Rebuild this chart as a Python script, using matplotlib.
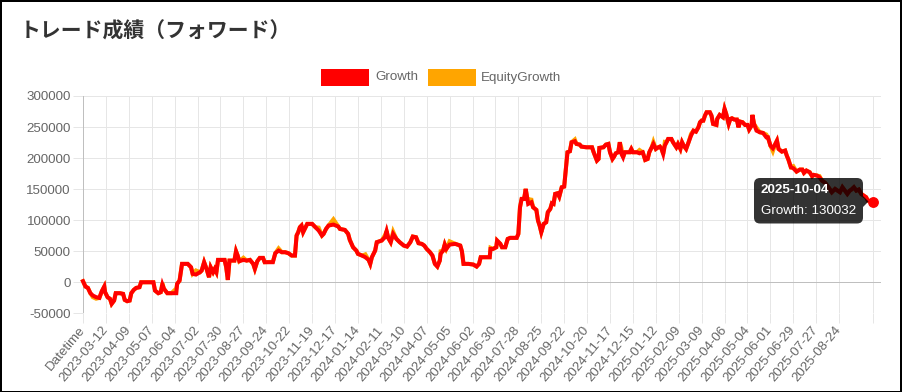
import matplotlib
matplotlib.use("Agg")
import matplotlib.pyplot as plt
import matplotlib.transforms as mtransforms
from matplotlib.patches import Rectangle, FancyBboxPatch, Polygon

# ---------------- data ----------------
title = "トレード成績（フォワード）"
series_names = ["Growth", "EquityGrowth"]

tick_labels = ["Datetime", "2023-03-12", "2023-04-09", "2023-05-07", "2023-06-04", "2023-07-02",
               "2023-07-30", "2023-08-27", "2023-09-24", "2023-10-22", "2023-11-19", "2023-12-17",
               "2024-01-14", "2024-02-11", "2024-03-10", "2024-04-07", "2024-05-05", "2024-06-02",
               "2024-06-30", "2024-07-28", "2024-08-25", "2024-09-22", "2024-10-20", "2024-11-17",
               "2024-12-15", "2025-01-12", "2025-02-09", "2025-03-09", "2025-04-06", "2025-05-04",
               "2025-06-01", "2025-06-29", "2025-07-27", "2025-08-24"]
label_step_days = 28          # one label every 28 daily points
last_day = 965                # index of 2025-10-04

# day index (0 = "Datetime", 1 = 2023-02-12 ...), growth values
days = [0, 3, 6, 9, 12, 16, 20, 23, 26, 27, 30, 33, 35, 38, 40, 45, 49, 51, 54, 57, 59, 62, 65, 69,
        71, 79, 86, 88, 92, 95, 97, 99, 103, 108, 114, 115, 118, 121, 128, 132, 134, 138, 143, 145,
        148, 151, 154, 156, 159, 161, 163, 165, 173, 175, 177, 179, 185, 187, 189, 191, 196, 200,
        204, 208, 210, 213, 216, 220, 222, 232, 235, 239, 243, 247, 251, 255, 259, 261, 263, 265,
        267, 269, 271, 274, 280, 284, 288, 292, 294, 297, 300, 306, 312, 314, 320, 324, 326, 330,
        334, 336, 341, 345, 349, 351, 353, 357, 359, 365, 369, 371, 373, 376, 379, 383, 387, 392,
        396, 400, 403, 407, 410, 414, 417, 420, 424, 427, 430, 433, 436, 437, 440, 442, 444, 448,
        455, 461, 463, 465, 471, 477, 481, 484, 486, 491, 497, 498, 501, 505, 506, 510, 512, 516,
        519, 522, 530, 532, 534, 536, 539, 541, 543, 544, 548, 550, 554, 556, 558, 560, 563, 566,
        568, 571, 573, 575, 577, 580, 582, 585, 588, 590, 592, 595, 597, 601, 603, 607, 609, 615,
        622, 624, 628, 630, 631, 636, 639, 642, 644, 647, 649, 651, 654, 656, 658, 660, 662, 668,
        670, 672, 677, 680, 684, 687, 690, 692, 695, 697, 700, 703, 705, 707, 709, 711, 713, 715,
        719, 721, 725, 727, 730, 732, 734, 737, 740, 743, 746, 749, 752, 754, 756, 758, 760, 762,
        766, 768, 770, 774, 775, 778, 782, 784, 786, 789, 791, 793, 796, 799, 801, 803, 806, 809,
        812, 814, 817, 818, 820, 823, 827, 831, 835, 837, 840, 843, 846, 848, 850, 854, 858, 860,
        862, 865, 868, 872, 876, 879, 881, 884, 888, 891, 893, 897, 900, 903, 907, 911, 915, 919,
        922, 925, 928, 931, 934, 937, 939, 942, 945, 948, 951, 954, 957, 959, 965]

growth = [1700, -6900, -9100, -17600, -21400, -24000, -25200, -14400, -6900, -16000, -24000, -26700,
          -34800, -29500, -17600, -17600, -18700, -28400, -30500, -29500, -17600, -12300, -9100, -8000,
          0, 0, 0, -13400, -17600, -16000, -3700, -10700, -17600, -17600, -17600, -2600, 2700, 29600,
          29600, 24200, 13500, 12400, 16200, 18800, 32300, 21500, 8100, 24200, 16200, 21500, 16200,
          36000, 36000, 24200, 3800, 34900, 34900, 50000, 43000, 33900, 36000, 34900, 36000, 29600,
          21500, 33900, 39200, 39200, 32300, 32300, 46800, 51000, 48400, 48400, 46800, 43000, 43000,
          75200, 80600, 88600, 91300, 80600, 85900, 94000, 94000, 88600, 83300, 75200, 77900, 85900,
          91300, 92900, 89700, 85900, 84300, 77900, 68200, 56400, 51000, 45700, 43000, 40300, 36000,
          29600, 40300, 51000, 64500, 67200, 72500, 82200, 71500, 64500, 77900, 69800, 64500, 59100,
          57500, 64500, 73600, 72500, 62900, 61800, 59100, 53700, 48400, 43000, 29600, 25300, 34900,
          45700, 51000, 60700, 53700, 60700, 61800, 59100, 50000, 29600, 29600, 28500, 25300, 29600,
          40300, 40300, 40300, 53700, 53700, 56400, 67200, 61800, 56400, 56400, 69800, 71500, 71500,
          77900, 120800, 134200, 134200, 150300, 134200, 126200, 128900, 120800, 116500, 99400, 91300,
          80600, 94000, 96600, 112800, 118100, 127300, 126200, 142300, 143400, 138000, 153000, 154100,
          182600, 209400, 211000, 225500, 227100, 222800, 221700, 218500, 217400, 217400, 209400,
          195900, 198600, 216400, 217400, 221700, 222800, 209400, 198600, 202400, 207700, 209400,
          225500, 206700, 201300, 209400, 209400, 214700, 209400, 209400, 207700, 209400, 197000,
          198600, 209400, 217400, 222800, 214700, 217400, 218500, 214700, 206700, 220100, 225500,
          230800, 230800, 225500, 217400, 222800, 214700, 225500, 220100, 214700, 225500, 236200,
          244200, 242600, 249600, 257700, 260400, 260400, 268400, 273800, 273800, 268400, 255000,
          253400, 263000, 269500, 265700, 279200, 271100, 255000, 263000, 264100, 262000, 262000,
          249600, 258800, 257700, 253400, 253400, 245900, 252300, 269500, 255000, 244200, 241600,
          240500, 233500, 233500, 220100, 215800, 222800, 228100, 214700, 210400, 212100, 204000,
          197600, 185200, 183600, 178300, 181500, 181500, 176100, 179900, 177200, 170700, 172900,
          171800, 169100, 163800, 160000, 153000, 145000, 150300, 147600, 145000, 153000, 147600,
          142300, 147600, 149300, 153000, 147600, 149300, 142300, 139600, 136900, 131600, 130032]

equity = [1700, -6900, -9100, -17600, -24000, -26500, -25200, -14400, -6900, -16000, -24000, -26700,
          -34800, -29500, -17600, -17600, -18700, -28400, -30500, -29500, -17600, -12300, -9100, -8000,
          0, 0, 0, -13400, -17600, -16000, -1500, -10700, -17600, -17600, -10000, -2600, 2700, 29600,
          29600, 24200, 13500, 19000, 16200, 18800, 32300, 21500, 8100, 24200, 16200, 21500, 16200,
          36000, 36000, 24200, 3800, 34900, 34900, 50000, 43000, 33900, 39500, 34900, 36000, 29600,
          21500, 33900, 39200, 39200, 32300, 33000, 46800, 54500, 48400, 48400, 46800, 43000, 43000,
          75200, 80600, 88600, 91300, 80600, 85900, 94000, 94000, 88600, 88000, 75200, 77900, 85900,
          91300, 101500, 89700, 85900, 84300, 77900, 68200, 56400, 51000, 45700, 43000, 45000, 36000,
          29600, 40300, 51000, 64500, 67200, 76000, 82200, 71500, 64500, 81500, 69800, 64500, 59100,
          57500, 64500, 73600, 72500, 62900, 61800, 59100, 53700, 48400, 43000, 29600, 25300, 34900,
          50000, 51000, 60700, 53700, 66000, 61800, 59100, 50000, 29600, 29600, 28500, 25300, 29600,
          40300, 40300, 40300, 55500, 53700, 56400, 67200, 61800, 56400, 56400, 69800, 71500, 71500,
          77900, 120800, 134200, 134200, 150300, 134200, 134000, 133000, 120800, 116500, 99400, 91300,
          80600, 94000, 96600, 112800, 118100, 127300, 126200, 142300, 143400, 138000, 153000, 154100,
          182600, 209400, 211000, 225500, 230000, 222800, 221700, 218500, 217400, 217400, 209400,
          195900, 198600, 216400, 217400, 221700, 222800, 209400, 198600, 202400, 207700, 209400,
          225500, 216000, 201300, 209400, 209400, 214700, 209400, 209400, 213000, 209400, 197000,
          198600, 209400, 217400, 226000, 214700, 217400, 218500, 214700, 206700, 226000, 225500,
          230800, 230800, 225500, 217400, 222800, 214700, 225500, 220100, 214700, 225500, 239000,
          244200, 242600, 249600, 257700, 260400, 260400, 268400, 273800, 273800, 268400, 255000,
          253400, 263000, 269500, 265700, 279200, 271100, 255000, 263000, 264100, 262000, 262000,
          249600, 258800, 257700, 253400, 253400, 245900, 252300, 269500, 255000, 249000, 241600,
          240500, 238000, 233500, 220100, 211000, 222800, 228100, 214700, 210400, 212100, 204000,
          197600, 185200, 187000, 178300, 181500, 181500, 176100, 179900, 177200, 170700, 172900,
          171800, 171000, 163800, 160000, 153000, 145000, 150300, 147600, 145000, 153000, 147600,
          142300, 147600, 149300, 153000, 147600, 149300, 142300, 139600, 136900, 131600, 130032]

tooltip_date = "2025-10-04"
tooltip_value = 130032

# ---------------- figure ----------------
W, H = 903, 392
fig = plt.figure(figsize=(W / 100, H / 100), dpi=100)
fig.patch.set_facecolor("white")

ax_left, ax_right, ax_top, ax_bottom = 83, 881, 96, 313.3
ax = fig.add_axes([ax_left / W, 1 - ax_bottom / H, (ax_right - ax_left) / W, (ax_bottom - ax_top) / H])

px_per_day = (872.7 - 83) / last_day
ax.set_xlim(0, (ax_right - ax_left) / px_per_day)
ax.set_ylim(-50000, 300000)

grid_c = "#e6e6e6"
zero_c = "#bfbfbf"
lab_c = "#666666"
font = ["Liberation Sans", "DejaVu Sans"]

for s in ax.spines.values():
    s.set_visible(False)

xt = [i * label_step_days for i in range(len(tick_labels))] + [last_day]
ax.set_xticks(xt)
ax.set_xticklabels(tick_labels + [""], rotation=50, rotation_mode="anchor", ha="right", va="center",
                   fontsize=9.6, color=lab_c, family=font)
yt = list(range(-50000, 300001, 50000))
ax.set_yticks(yt)
ax.set_yticklabels([str(v) for v in yt], fontsize=9.6, color=lab_c, family=font)
ax.tick_params(axis="x", length=7.2, width=0.72, color=grid_c, pad=3.5)
ax.tick_params(axis="y", length=7.2, width=0.72, color=grid_c, pad=1.5)
ax.set_axisbelow(True)
ax.grid(True, which="major", axis="both", color=grid_c, linewidth=0.72, linestyle="-")
ax.axhline(0, color=zero_c, lw=0.72, zorder=1)
ax.axvline(0, color=zero_c, lw=0.72, zorder=1)

ax.plot(days, equity, color="#FFA500", lw=2.9, solid_joinstyle="miter", zorder=2, clip_on=False)
ax.plot(days, growth, color="#FF0000", lw=2.9, solid_joinstyle="miter", zorder=3, clip_on=False)
ax.plot([days[-1]], [growth[-1]], "o", color="#FF0000", ms=6.8, zorder=4, clip_on=False)

# ---------------- title ----------------
fig.text(20 / W, 1 - 31 / H, title, fontsize=15, fontweight="bold", color="#333333",
         family=["Noto Sans CJK JP", "DejaVu Sans"], va="center", ha="left")

# pixel helper (image coords, y down) -> display coords
disp = mtransforms.IdentityTransform()
def P(x, y):
    return (x, H - y)

# ---------------- legend ----------------
for (x0, name, col, tx) in [(321, series_names[0], "#FF0000", 375), (428, series_names[1], "#FFA500", 481)]:
    fig.patches.append(Rectangle(P(x0, 86), 48, 17, transform=disp, facecolor=col, edgecolor="none"))
    fig.text(tx / W, 1 - 77.5 / H, name, fontsize=9.6, color=lab_c, family=font, va="center", ha="left")

# ---------------- tooltip ----------------
tip = FancyBboxPatch(P(754, 223.5), 109, 45.5, boxstyle="round,pad=0,rounding_size=6",
                     transform=disp, facecolor=(0, 0, 0, 0.8), edgecolor="none")
fig.patches.append(tip)
fig.patches.append(Polygon([P(863, 196), P(863, 207), P(868.5, 201.5)], closed=True,
                           transform=disp, facecolor=(0, 0, 0, 0.8), edgecolor="none"))
fig.text(761 / W, 1 - 190 / H, tooltip_date, fontsize=9.6, fontweight="bold", color="white",
         family=font, va="center", ha="left")
fig.text(761 / W, 1 - 211.5 / H, f"{series_names[0]}: {tooltip_value}", fontsize=9.6, color="white",
         family=font, va="center", ha="left")

# ---------------- outer frame ----------------
for (x0, y0, w, h) in [(0, 392, 2, 392), (899.5, 392, 3.5, 392), (0, 2, 903, 2), (0, 392, 903, 1.5)]:
    fig.patches.append(Rectangle(P(x0, y0), w, h, transform=disp, facecolor="black", edgecolor="none"))

fig.savefig("out.png", dpi=100, facecolor="white")
